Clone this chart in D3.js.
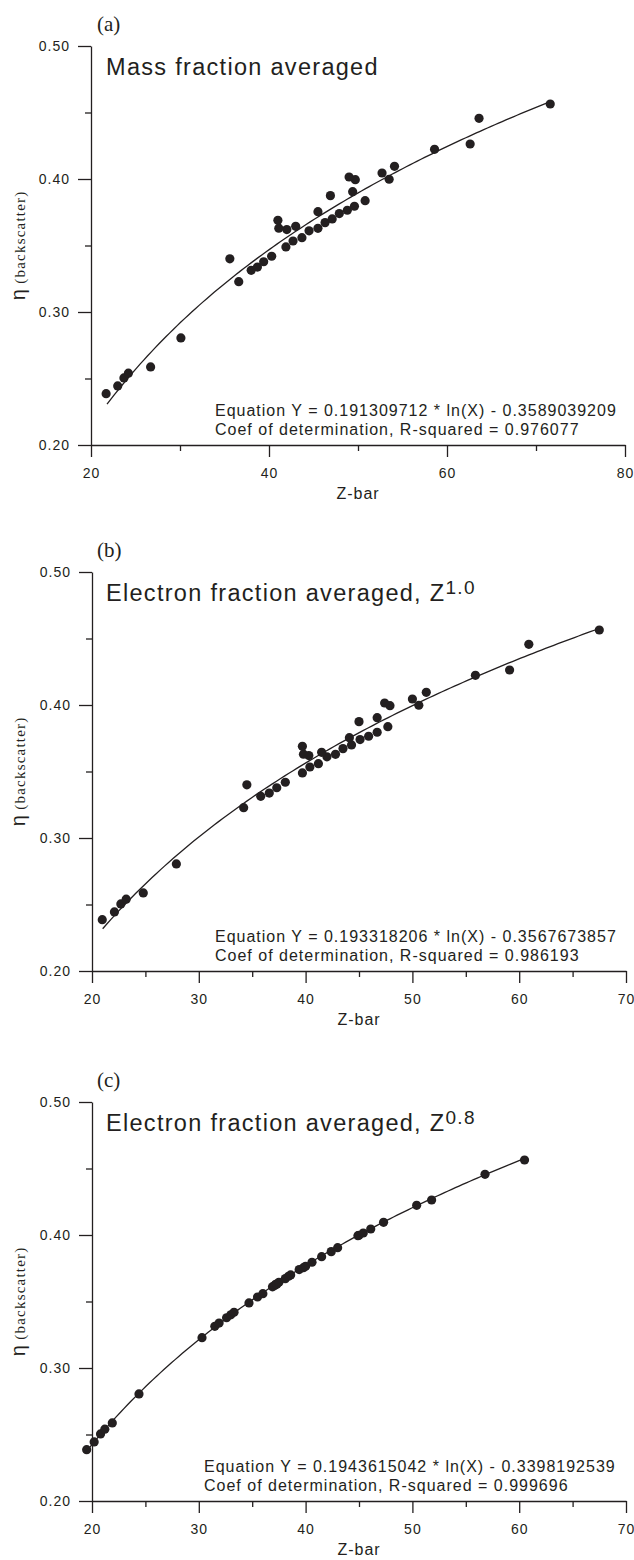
<!DOCTYPE html>
<html><head><meta charset="utf-8">
<script src="https://cdn.jsdelivr.net/npm/d3@7"></script>
<style>
body{margin:0;background:#fff}
svg{display:block}
.sans{font-family:"Liberation Sans",Arial,Helvetica,sans-serif}
.serif{font-family:"Liberation Serif","Times New Roman",serif}
</style>
</head><body>
<svg id="chart" width="634" height="1560"></svg>
<script>
// ---- data ----
const eta = [0.2386,0.2444,0.2504,0.2540,0.2587,0.2805,0.3228,0.3313,0.3338,0.3378,
             0.3400,0.3419,0.3489,0.3534,0.3559,0.3610,0.3620,0.3629,0.3630,0.3644,
             0.3672,0.3690,0.3700,0.3740,0.3754,0.3765,0.3795,0.3837,0.3875,0.3905,
             0.3995,0.3998,0.4015,0.4045,0.4095,0.4223,0.4263,0.4456,0.4564];
const zMass = [21.7,23.0,23.7,24.2,26.7,30.1,36.6,38.0,38.7,39.4,
               35.6,40.3,41.9,42.7,43.7,44.5,42.0,45.5,41.1,43.0,
               46.3,41.0,47.1,47.9,45.5,48.8,49.6,50.8,46.9,49.4,
               49.7,53.5,49.0,52.7,54.1,58.6,62.6,63.6,71.6];
const zElec10 = [20.96,22.1,22.7,23.2,24.8,27.9,34.2,35.8,36.6,37.3,
                 34.5,38.1,39.7,40.4,41.2,42.0,40.3,42.8,39.8,41.5,
                 43.5,39.7,44.3,45.1,44.1,45.9,46.7,47.7,45.0,46.7,
                 47.9,50.6,47.4,50.0,51.3,55.9,59.1,60.9,67.5];
const zElec08 = [19.5,20.2,20.8,21.2,21.9,24.4,30.3,31.5,31.9,32.6,
                 33.0,33.3,34.7,35.5,36.0,36.9,37.1,37.2,37.3,37.5,
                 38.1,38.4,38.6,39.4,39.8,40.0,40.6,41.5,42.4,43.0,
                 44.9,45.0,45.4,46.1,47.3,50.4,51.8,56.8,60.5];
const fitSlope = [0.191309712, 0.193318206, 0.1943615042];
const fitIntercept = [-0.3589039209, -0.3567673857, -0.3398192539];
const fitRange = [[21.8,71.6],[21.0,67.5],[19.6,60.5]];
const xDomains = [[20,80],[20,70],[20,70]];
const xMajorTicks = [[20,40,60,80],[20,30,40,50,60,70],[20,30,40,50,60,70]];
const xMinorTicks = [[30,50,70],[25,35,45,55,65],[25,35,45,55,65]];
const yMajorTicks = [0.20,0.30,0.40,0.50];
const yMinorTicks = [0.25,0.35,0.45];
const panelLetters = ["(a)","(b)","(c)"];
const titles = ["Mass fraction averaged","Electron fraction averaged, Z","Electron fraction averaged, Z"];
const superscripts = ["","1.0","0.8"];
const equations = ["Equation Y = 0.191309712 * ln(X) - 0.3589039209",
                   "Equation Y = 0.193318206 * ln(X) - 0.3567673857",
                   "Equation Y = 0.1943615042 * ln(X) - 0.3398192539"];
const rSquared = ["Coef of determination, R-squared = 0.976077",
                  "Coef of determination, R-squared = 0.986193",
                  "Coef of determination, R-squared = 0.999696"];
const series = [zMass, zElec10, zElec08];

// ---- layout ----
const ink = "#231f20";
const panelTop = [46, 572, 1102];
const panelH = 399;
const panelX = [[91,625],[92,626],[92,626]];
const eqX = [215, 215, 204];

const svg = d3.select("#chart");
svg.append("rect").attr("width",634).attr("height",1560).attr("fill","#fff");

for (let p = 0; p < 3; p++) {
  const top = panelTop[p], bottom = top + panelH;
  const x = d3.scaleLinear().domain(xDomains[p]).range(panelX[p]);
  const y = d3.scaleLinear().domain([0.2,0.5]).range([bottom, top]);
  const g = svg.append("g");

  // y axis
  const yMaj = g.append("g").attr("transform",`translate(${panelX[p][0]},0)`)
    .call(d3.axisLeft(y).tickValues(yMajorTicks).tickSize(13).tickSizeOuter(0)
      .tickPadding(8).tickFormat(d3.format(".2f")));
  const yMin = g.append("g").attr("transform",`translate(${panelX[p][0]},0)`)
    .call(d3.axisLeft(y).tickValues(yMinorTicks).tickSize(6).tickSizeOuter(0).tickFormat(""));
  // x axis
  const xMaj = g.append("g").attr("transform",`translate(0,${bottom})`)
    .call(d3.axisBottom(x).tickValues(xMajorTicks[p]).tickSize(12).tickSizeOuter(0)
      .tickPadding(11).tickFormat(d3.format("d")));
  const xMin = g.append("g").attr("transform",`translate(0,${bottom})`)
    .call(d3.axisBottom(x).tickValues(xMinorTicks[p]).tickSize(6).tickSizeOuter(0).tickFormat(""));
  [yMaj,yMin,xMaj,xMin].forEach(a => {
    a.selectAll("path,line").attr("stroke",ink).attr("stroke-width",1.3);
    a.selectAll("text").attr("class","sans").attr("fill",ink)
      .style("font-size","14px").style("letter-spacing","1px");
  });
  yMin.select(".domain").remove(); xMin.select(".domain").remove();

  // fit curve
  const n = 120, r = fitRange[p];
  const curvePts = d3.range(n+1).map(i => {
    const xv = r[0] + (r[1]-r[0])*i/n;
    return [xv, fitSlope[p]*Math.log(xv) + fitIntercept[p]];
  });
  g.append("path").datum(curvePts)
    .attr("d", d3.line().x(d => x(d[0])).y(d => y(d[1])))
    .attr("fill","none").attr("stroke",ink).attr("stroke-width",1.3);

  // points
  g.selectAll("circle").data(series[p].map((z,i)=>[z,eta[i]])).join("circle")
    .attr("cx", d => x(d[0])).attr("cy", d => y(d[1])).attr("r",4.6).attr("fill",ink);

  // panel letter
  g.append("text").attr("class","serif").attr("x",97).attr("y",top-15)
    .attr("fill",ink).style("font-size","21px").text(panelLetters[p]);
  // title
  const t = g.append("text").attr("class","sans").attr("x",106).attr("y",top+29)
    .attr("fill",ink).style("font-size","23.5px").style("letter-spacing","1.3px").text(titles[p]);
  if (superscripts[p]) t.append("tspan").attr("dy",-7).style("font-size","19px").text(superscripts[p]);

  // equation text
  g.append("text").attr("class","sans").attr("x",eqX[p]).attr("y",bottom-29)
    .attr("fill",ink).style("font-size","16px").style("letter-spacing","1px").text(equations[p]);
  g.append("text").attr("class","sans").attr("x",eqX[p]).attr("y",bottom-10)
    .attr("fill",ink).style("font-size","16px").style("letter-spacing","1px").text(rSquared[p]);

  // x label
  g.append("text").attr("class","sans").attr("x",(panelX[p][0]+panelX[p][1])/2).attr("y",bottom+54)
    .attr("text-anchor","middle").attr("fill",ink).style("font-size","16px").style("letter-spacing","1px").text("Z-bar");

  // y label
  const yl = g.append("text").attr("transform",`translate(25,${(top+bottom)/2}) rotate(-90)`)
    .attr("text-anchor","middle").attr("fill",ink);
  yl.append("tspan").attr("class","sans").style("font-size","20px").text("η ");
  yl.append("tspan").attr("class","serif").style("font-size","15px").style("letter-spacing","1.2px").text("(backscatter)");
}
</script>
</body></html>
